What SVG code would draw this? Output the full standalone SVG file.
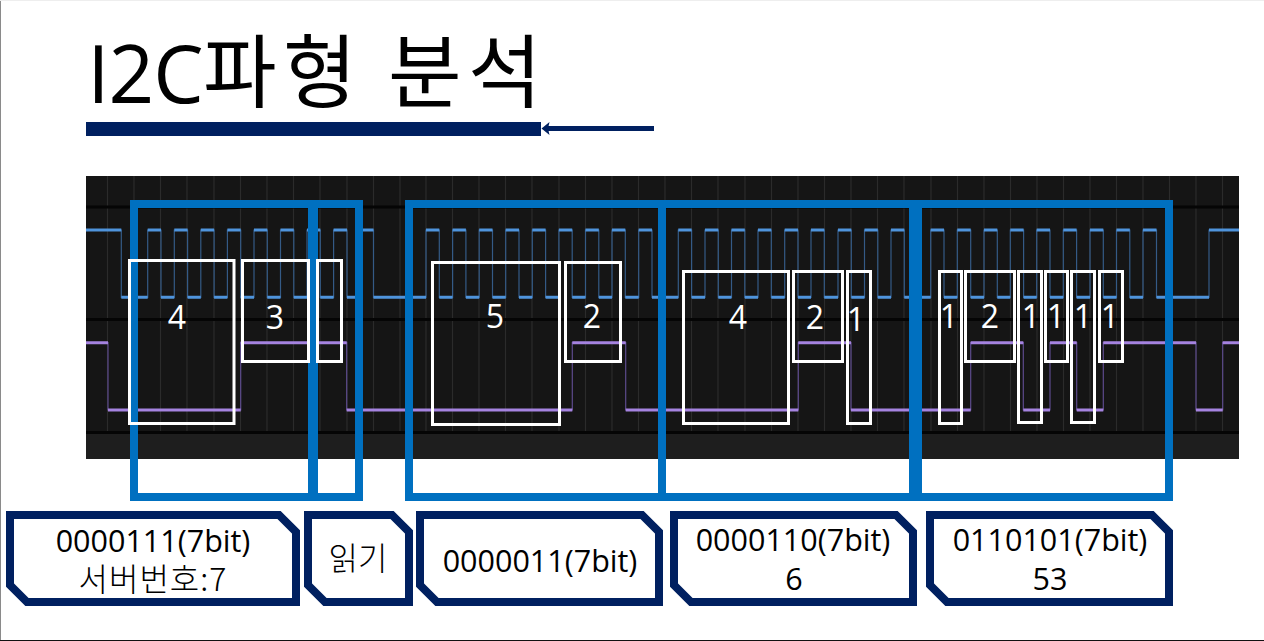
<svg xmlns="http://www.w3.org/2000/svg" width="1264" height="641" viewBox="0 0 1264 641">
<style>
text{font-family:"Open Sans","Noto Sans CJK KR",sans-serif;font-weight:400;fill:#000;text-anchor:middle}
.n{fill:#fff;font-size:32px}
.l{font-size:30.5px}
.k{font-size:32px;font-family:"Noto Sans CJK KR",sans-serif;font-weight:300}
.tag{fill:#fff;stroke:#002060;stroke-width:8;stroke-linejoin:miter}
.box{fill:none;stroke:#fff;stroke-width:3}
.blue{fill:none;stroke:#0070c0;stroke-width:8}
.g{stroke:#2b2b2b;stroke-width:1.2}
.hl{stroke:#050505;stroke-width:3}
</style>
<defs>
<marker id="ah" markerUnits="userSpaceOnUse" markerWidth="11" markerHeight="14" refX="2.500" refY="7" orient="auto" overflow="visible"><path d="M9 7L1 0.500L2.500 7L1 13.500Z" fill="#002060"/></marker>
</defs>
<rect width="1264" height="641" fill="#fff"/>
<path d="M0.5 0V641" stroke="#8a8a8a"/><path d="M0 640.5H1264" stroke="#111"/><path d="M0 0.5H1264" stroke="#eee"/>
<g id="title"><text x="145" y="103" style="font-size:80px;letter-spacing:-1px">I2C</text><text x="203 283 388 468" y="101" style="font-size:80px;text-anchor:start;font-family:'Noto Sans CJK KR',sans-serif">파형분석</text></g>
<rect id="title-bar" x="86" y="122" width="455" height="14" fill="#002060"/>
<g id="scope">
<rect x="86" y="176" width="1153" height="283" fill="#151515"/>
<rect x="86" y="433" width="1153" height="26" fill="#1e1e1e"/>
<path class="g" d="M107.500 176V432M134 176V432M160.500 176V432M187 176V432M214 176V432M240.500 176V432M267 176V432M293.500 176V432M320 176V432M347 176V432M373.500 176V432M400 176V432M426 176V432M452.500 176V432M479 176V432M505.500 176V432M532 176V432M559 176V432M585.500 176V432M612 176V432M638.500 176V432M665 176V432M691.500 176V432M718 176V432M745 176V432M771.500 176V432M798 176V432M824.500 176V432M851 176V432M877.500 176V432M904 176V432M931 176V432M957.500 176V432M984 176V432M1010.500 176V432M1037 176V432M1063.500 176V432M1090 176V432M1116.500 176V432M1143 176V432M1169.500 176V432M1196 176V432M1222.500 176V432"/>
<path class="hl" d="M86 207H1239M86 319.500H1239M86 432.500H1239"/>
<path d="M86 230H121.300V297.300H147.700V230H161V297.300H174.300V230H187.600V297.300H200.800V230H214.100V297.300H227.400V230H240.700V297.300H254V230H267.300V297.300H280.500V230H293.800V297.300H307V230H320.300V297.300H333.600V230H347V297.300H360.300V230H373.500V297.300H426V230H439.300V297.300H452.600V230H465.900V297.300H479.200V230H492.500V297.300H505.700V230H519V297.300H532.300V230H545.600V297.300H558.900V230H572.200V297.300H585.500V230H598.800V297.300H612V230H625.300V297.300H638.700V230H652V297.300H678.300V230H691.600V297.300H705V230H718.300V297.300H731.500V230H744.800V297.300H758V230H771.300V297.300H784.700V230H798V297.300H811V230H824.300V297.300H838V230H851.300V297.300H864.500V230H877.800V297.300H891V230H904.300V297.300H930.700V230H944V297.300H957.300V230H970.700V297.300H984V230H997.300V297.300H1010.300V230H1023.600V297.300H1036.700V230H1050V297.300H1063.300V230H1076.600V297.300H1090V230H1103.300V297.300H1116.500V230H1129.800V297.300H1143V230H1156.500V297.300H1209V230H1239" fill="none" stroke="#345a86" stroke-width="1.200"/>
<path d="M86 230H121.300M147.700 230H161M174.300 230H187.600M200.800 230H214.100M227.400 230H240.700M254 230H267.300M280.500 230H293.800M307 230H320.300M333.600 230H347M360.300 230H373.500M426 230H439.300M452.600 230H465.900M479.200 230H492.500M505.700 230H519M532.300 230H545.600M558.900 230H572.200M585.500 230H598.800M612 230H625.300M638.700 230H652M678.300 230H691.600M705 230H718.300M731.500 230H744.800M758 230H771.300M784.700 230H798M811 230H824.300M838 230H851.300M864.500 230H877.800M891 230H904.300M930.700 230H944M957.300 230H970.700M984 230H997.300M1010.300 230H1023.600M1036.700 230H1050M1063.300 230H1076.600M1090 230H1103.300M1116.500 230H1129.800M1143 230H1156.500M1209 230H1239M121.300 297.300H147.700M161 297.300H174.300M187.600 297.300H200.800M214.100 297.300H227.400M240.700 297.300H254M267.300 297.300H280.500M293.800 297.300H307M320.300 297.300H333.600M347 297.300H360.300M373.500 297.300H426M439.300 297.300H452.600M465.900 297.300H479.200M492.500 297.300H505.700M519 297.300H532.300M545.600 297.300H558.900M572.200 297.300H585.500M598.800 297.300H612M625.300 297.300H638.700M652 297.300H678.300M691.600 297.300H705M718.300 297.300H731.500M744.800 297.300H758M771.300 297.300H784.700M798 297.300H811M824.300 297.300H838M851.300 297.300H864.500M877.800 297.300H891M904.300 297.300H930.700M944 297.300H957.300M970.700 297.300H984M997.300 297.300H1010.300M1023.600 297.300H1036.700M1050 297.300H1063.300M1076.600 297.300H1090M1103.300 297.300H1116.500M1129.800 297.300H1143M1156.500 297.300H1209" fill="none" stroke="#4f94dc" stroke-width="3"/>
<path d="M86 342.700H108V410H240.700V342.700H346.700V410H572.300V342.700H625.700V410H798.300V342.700H851V410H970.700V342.700H1023.300V410H1050V342.700H1076.700V410H1103.300V342.700H1196V410H1222.700V342.700H1239" fill="none" stroke="#5c4a8c" stroke-width="1.200"/>
<path d="M86 342.700H108M240.700 342.700H346.700M572.300 342.700H625.700M798.300 342.700H851M970.700 342.700H1023.300M1050 342.700H1076.700M1103.300 342.700H1196M1222.700 342.700H1239M108 410H240.700M346.700 410H572.300M625.700 410H798.300M851 410H970.700M1023.300 410H1050M1076.700 410H1103.300M1196 410H1222.700" fill="none" stroke="#a583e0" stroke-width="3"/>
</g>
<g id="connectors">
<path d="M654 128.500H548" fill="none" stroke="#002060" stroke-width="5" marker-end="url(#ah)"/>
</g>
<g id="blue-frames">
<rect class="blue" x="134" y="204" width="178" height="293"/>
<rect class="blue" x="314" y="204" width="45" height="293"/>
<rect class="blue" x="409" y="204" width="253" height="293"/>
<rect class="blue" x="662" y="204" width="251" height="293"/>
<rect class="blue" x="918" y="204" width="251" height="293"/>
</g>
<g id="b1"><rect class="box" x="129.500" y="260.500" width="104.500" height="163"/><text class="n" x="177" y="329">4</text></g>
<g id="b2"><rect class="box" x="242.500" y="260.500" width="66" height="101"/><text class="n" x="275" y="329">3</text></g>
<g id="b3"><rect class="box" x="317.500" y="260.500" width="24" height="101"/></g>
<g id="b4"><rect class="box" x="432.500" y="262.500" width="127" height="162"/><text class="n" x="495" y="328">5</text></g>
<g id="b5"><rect class="box" x="565.500" y="262.500" width="55" height="99"/><text class="n" x="592" y="328">2</text></g>
<g id="b6"><rect class="box" x="683.500" y="271.500" width="105" height="152"/><text class="n" x="738" y="329">4</text></g>
<g id="b7"><rect class="box" x="793.500" y="271.500" width="49" height="90"/><text class="n" x="815" y="329">2</text></g>
<g id="b8"><rect class="box" x="847.500" y="271.500" width="23" height="152"/><text class="n" x="856" y="331">1</text></g>
<g id="b9"><rect class="box" x="939.500" y="271.500" width="22" height="152"/><text class="n" x="949" y="328">1</text></g>
<g id="b10"><rect class="box" x="965.500" y="271.500" width="49" height="90"/><text class="n" x="990" y="328">2</text></g>
<g id="b11"><rect class="box" x="1018.500" y="271.500" width="23" height="151"/><text class="n" x="1031" y="328">1</text></g>
<g id="b12"><rect class="box" x="1045.500" y="271.500" width="22" height="90"/><text class="n" x="1056" y="328">1</text></g>
<g id="b13"><rect class="box" x="1071.500" y="271.500" width="23" height="151"/><text class="n" x="1083" y="328">1</text></g>
<g id="b14"><rect class="box" x="1099.500" y="271.500" width="23" height="90"/><text class="n" x="1110" y="328">1</text></g>
<g id="tag1"><path class="tag" d="M10 515H279L296 532V602H27L10 585Z"/><text x="153"><tspan class="l" x="153" y="552">0000111(7bit)</tspan><tspan class="k" x="153" y="591" letter-spacing="1">서버번호:7</tspan></text></g>
<g id="tag2"><path class="tag" d="M308 515H392L409 532V602H325L308 585Z"/><text class="k" x="358" y="570">읽기</text></g>
<g id="tag3"><path class="tag" d="M420 515H642L659 532V602H437L420 585Z"/><text class="l" x="540" y="572">0000011(7bit)</text></g>
<g id="tag4"><path class="tag" d="M674 515H896L913 532V602H691L674 585Z"/><text class="l"><tspan x="793" y="551">0000110(7bit)</tspan><tspan x="794" y="590">6</tspan></text></g>
<g id="tag5"><path class="tag" d="M930 515H1152L1169 532V602H947L930 585Z"/><text class="l"><tspan x="1050" y="551">0110101(7bit)</tspan><tspan x="1050" y="590">53</tspan></text></g>
</svg>
